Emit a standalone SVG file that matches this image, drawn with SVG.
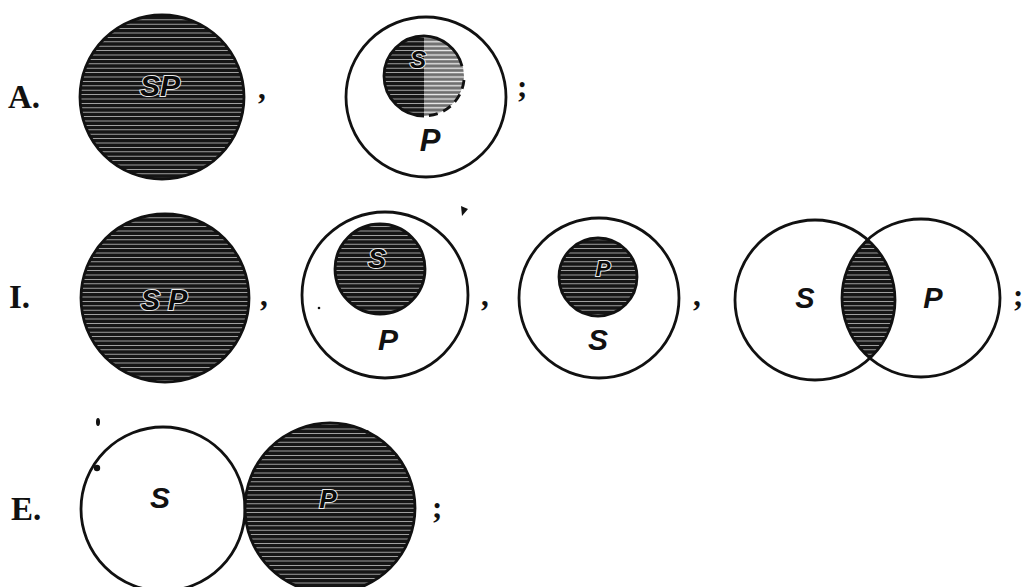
<svg xmlns="http://www.w3.org/2000/svg" width="1025" height="587" viewBox="0 0 1025 587">
<defs>
<pattern id="hatch" width="10" height="4.4" patternUnits="userSpaceOnUse">
<rect width="10" height="4.4" fill="#151515"/>
<line x1="0" y1="2.2" x2="10" y2="2.2" stroke="#d8d8d8" stroke-width="0.75"/>
</pattern>
<pattern id="hatchLight" width="10" height="4.4" patternUnits="userSpaceOnUse">
<rect width="10" height="4.4" fill="#707070"/>
<line x1="0" y1="2.2" x2="10" y2="2.2" stroke="#f2f2f2" stroke-width="1.3"/>
</pattern>
<clipPath id="leftHalfA2"><rect x="380" y="30" width="44" height="95"/></clipPath>
<clipPath id="clipS4"><circle cx="815" cy="300" r="80"/></clipPath>
</defs>
<style>
.ring{fill:none;stroke:#111;stroke-width:2.8}
.dark{fill:url(#hatch);stroke:#111;stroke-width:2.8}
.lbl{font-family:"Liberation Sans",Arial,sans-serif;font-style:italic;font-weight:bold;fill:#111;text-anchor:middle}
.onhatch{fill:#0a0a0a;stroke:#ececec;stroke-width:2;paint-order:stroke}
.head{font-family:"Liberation Serif","Times New Roman",serif;font-weight:bold;font-size:33px;fill:#111}
.punct{font-family:"Liberation Serif","Times New Roman",serif;font-weight:bold;font-size:31px;fill:#111}
</style>
<rect width="1025" height="587" fill="#fff"/>

<g id="row-A">
<text class="head" x="8" y="108">A.</text>
<g id="A1">
<circle class="dark" cx="162" cy="97" r="82"/>
<text class="lbl onhatch" x="160" y="96" font-size="30">SP</text>
</g>
<text class="punct" x="258" y="99">,</text>
<g id="A2">
<circle class="ring" cx="426" cy="97" r="80"/>
<circle cx="424" cy="76" r="40" fill="url(#hatchLight)"/>
<circle cx="424" cy="76" r="40" fill="url(#hatch)" clip-path="url(#leftHalfA2)"/>
<path class="ring" d="M424 36 A40 40 0 0 0 424 116"/>
<path class="ring" d="M424 36 A40 40 0 0 1 462 66" stroke-width="1.6"/>
<path class="ring" d="M464 80 A40 40 0 0 1 424 116" stroke-dasharray="9 6" stroke-width="2"/>
<text class="lbl onhatch" x="418" y="68" font-size="24">S</text>
<text class="lbl" x="430" y="151" font-size="31">P</text>
</g>
<text class="punct" x="517" y="97">;</text>
</g>

<g id="row-I">
<text class="head" x="9" y="308">I.</text>
<g id="I1">
<circle class="dark" cx="165" cy="298" r="84"/>
<text class="lbl onhatch" x="164" y="310" font-size="29">S P</text>
</g>
<text class="punct" x="260" y="306">,</text>
<g id="I2">
<circle class="ring" cx="385" cy="295" r="83"/>
<circle class="dark" cx="380" cy="269" r="45"/>
<text class="lbl onhatch" x="377" y="268" font-size="27">S</text>
<text class="lbl" x="388" y="350" font-size="30">P</text>
<circle cx="319" cy="308" r="1.3" fill="#111"/>
<path d="M461 206 L468 209 L462 216 Z" fill="#111"/>
</g>
<text class="punct" x="481" y="306">,</text>
<g id="I3">
<circle class="ring" cx="599" cy="298" r="80"/>
<circle class="dark" cx="598" cy="277" r="39"/>
<text class="lbl onhatch" x="603" y="276" font-size="22">P</text>
<text class="lbl" x="598" y="350" font-size="30">S</text>
</g>
<text class="punct" x="693" y="306">,</text>
<g id="I4">
<circle cx="921" cy="298" r="79" fill="url(#hatch)" clip-path="url(#clipS4)"/>
<circle class="ring" cx="815" cy="300" r="80"/>
<circle class="ring" cx="921" cy="298" r="79"/>
<text class="lbl" x="805" y="308" font-size="29">S</text>
<text class="lbl" x="933" y="308" font-size="29">P</text>
</g>
<text class="punct" x="1013" y="306">;</text>
</g>

<g id="row-E">
<text class="head" x="11" y="520">E.</text>
<g id="E1">
<circle class="ring" cx="163" cy="509" r="82"/>
<text class="lbl" x="160" y="508" font-size="30">S</text>
<ellipse cx="98" cy="422" rx="2" ry="4" fill="#111"/>
<circle cx="97" cy="468" r="3.2" fill="#111"/>
</g>
<g id="E2">
<circle class="dark" cx="330" cy="508" r="85"/>
<text class="lbl onhatch" x="328" y="508" font-size="26">P</text>
<circle cx="367" cy="432" r="2" fill="#111"/>
</g>
<text class="punct" x="432" y="518">;</text>
</g>
</svg>
